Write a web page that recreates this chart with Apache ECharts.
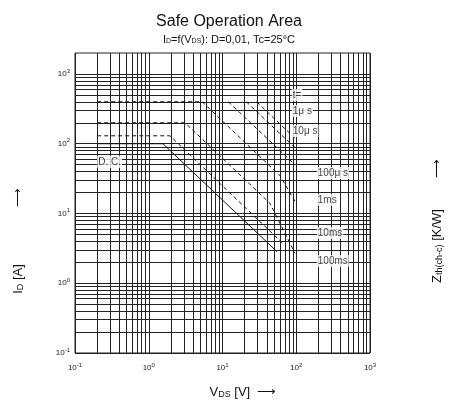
<!DOCTYPE html>
<html>
<head>
<meta charset="utf-8">
<script src="https://cdn.jsdelivr.net/npm/echarts@6/dist/echarts.min.js"></script>
<style>
html, body { margin: 0; padding: 0; background: #fff; }
#chart { width: 465px; height: 405px; }
</style>
</head>
<body>
<div id="chart"></div>
<script>
// SOA curves: [V_DS, I_D] break points
const dcCurve = [[0.2, 100], [1.56, 100], [55, 2.83]];
const ms100Curve = [[0.2, 130], [1.94, 130], [70, 3.5]];
const ms10Curve = [[0.2, 200], [3.1, 200], [44, 14], [96, 2.7]];
const ms1Curve = [[0.2, 400], [5.3, 400], [60, 35], [96, 15]];
const us100Curve = [[12, 400], [96, 50]];
const us10Curve = [[21, 400], [96, 88]];
const us1Curve = [[29, 400], [96, 120]];

// tick exponents (labels 10^n)
const xTickExp = ['-1', '0', '1', '2', '3'];
const yTickExp = ['-1', '0', '1', '2', '3'];

// log graph-paper grid
const gridMant = [1, 2, 3, 4, 5, 6, 7, 8, 9];
const xDecades = [0.1, 1, 10, 100];
const yDecades = [0.1, 1, 10, 100];

// curve labels: [text, V at left edge, I]
const curveLabels = [
    ['t=', 87, 500], ['1\u03bc s', 87, 295], ['10\u03bc s', 87, 152],
    ['100\u03bc s', 190, 38], ['1ms', 190, 15.6], ['10ms', 190, 5.25], ['100ms', 190, 2.08],
    ['D. C.', 0.2, 55]
];

const xLines = [];
xDecades.forEach(d => gridMant.forEach(m => xLines.push({ xAxis: +(m * d).toPrecision(3) })));
xLines.push({ xAxis: 1000 });
const yLines = [];
yDecades.forEach(d => gridMant.forEach(m => yLines.push({ yAxis: +(m * d).toPrecision(3) })));
yLines.push({ yAxis: 1000 });

const chart = echarts.init(document.getElementById('chart'));

function curve(name, data, type) {
    return {
        name: name,
        type: 'line',
        data: data,
        symbol: 'none',
        silent: true,
        z: 5,
        lineStyle: { color: '#111', width: 1, type: type }
    };
}

const font = 'Liberation Sans';
const tickRich = {
    b: { fontFamily: font, fontSize: 8, color: '#222' },
    e: { fontFamily: font, fontSize: 6, color: '#222', padding: [0, 0, 6, 0] }
};

chart.setOption({
    animation: false,
    title: {
        text: 'Safe Operation Area',
        subtext: '{a|I}{s|D}{a|=f(V}{s|DS}{a|): D=0,01, Tc=25°C}',
        left: 224,
        textAlign: 'center',
        top: 9,
        itemGap: 4,
        textStyle: { fontFamily: font, fontSize: 16, fontWeight: 'normal', color: '#111' },
        subtextStyle: {
            rich: {
                a: { fontFamily: font, fontSize: 11, color: '#111' },
                s: { fontFamily: font, fontSize: 7, color: '#111', padding: [4, 0, 0, 0] }
            }
        }
    },
    grid: {
        left: 75, top: 53, width: 295, height: 300,
        show: true, borderColor: '#222', borderWidth: 1
    },
    xAxis: {
        type: 'log',
        min: 0.1,
        max: 1000,
        logBase: 10,
        axisLine: { show: false },
        axisTick: { show: false },
        splitLine: { show: false },
        axisLabel: {
            margin: 9,
            formatter: (v, i) => '{b|10}{e|' + xTickExp[i] + '}',
            rich: tickRich
        }
    },
    yAxis: {
        type: 'log',
        min: 0.1,
        max: 2000,
        logBase: 10,
        axisLine: { show: false },
        axisTick: { show: false },
        splitLine: { show: false },
        axisLabel: {
            margin: 5,
            showMaxLabel: false,
            formatter: (v, i) => '{b|10}{e|' + yTickExp[i] + '}',
            rich: tickRich
        }
    },
    graphic: [
        {
            type: 'text', x: 243, y: 392,
            style: { text: '{a|V}{s|DS}{a| [V]  \u27f6}', align: 'center', verticalAlign: 'middle', rich: {
                a: { fontFamily: font, fontSize: 13, fill: '#111' },
                s: { fontFamily: font, fontSize: 9, fill: '#111', padding: [5, 0, 0, 0] }
            } }
        },
        {
            type: 'text', x: 18, y: 279, rotation: Math.PI / 2,
            style: { text: '{a|I}{s|D}{a| [A]}', align: 'center', verticalAlign: 'middle', rich: {
                a: { fontFamily: font, fontSize: 13, fill: '#111' },
                s: { fontFamily: font, fontSize: 9, fill: '#111', padding: [5, 0, 0, 0] }
            } }
        },
        {
            type: 'text', x: 18, y: 197, rotation: Math.PI / 2,
            style: { text: '\u27f6', align: 'center', verticalAlign: 'middle', fontFamily: font, fontSize: 13, fill: '#111' }
        },
        {
            type: 'text', x: 437, y: 246, rotation: Math.PI / 2,
            style: { text: '{a|Z}{s|th(ch-c)}{a| [K/W]}', align: 'center', verticalAlign: 'middle', rich: {
                a: { fontFamily: font, fontSize: 13, fill: '#111' },
                s: { fontFamily: font, fontSize: 9, fill: '#111', padding: [5, 0, 0, 0] }
            } }
        },
        {
            type: 'text', x: 437, y: 168, rotation: Math.PI / 2,
            style: { text: '\u27f6', align: 'center', verticalAlign: 'middle', fontFamily: font, fontSize: 13, fill: '#111' }
        }
    ],
    series: [
        {
            type: 'line',
            data: [],
            silent: true,
            markLine: {
                silent: true,
                symbol: 'none',
                label: { show: false },
                lineStyle: { color: '#222', width: 1, type: 'solid' },
                data: xLines.concat(yLines)
            }
        },
        curve('D.C.', dcCurve, 'solid'),
        curve('100ms', ms100Curve, [4, 3]),
        curve('10ms', ms10Curve, [4, 3]),
        curve('1ms', ms1Curve, [4, 3]),
        curve('100us', us100Curve, [4, 3]),
        curve('10us', us10Curve, [4, 3]),
        curve('1us', us1Curve, [4, 3]),
        {
            type: 'scatter',
            symbolSize: 0,
            silent: true,
            z: 6,
            data: curveLabels.map(l => ({ value: [l[1], l[2]], name: l[0] })),
            label: {
                show: true,
                position: 'inside',
                align: 'left',
                formatter: p => p.name,
                fontFamily: font,
                fontSize: 10,
                color: '#111',
                backgroundColor: '#fff',
                padding: [1, 1]
            }
        }
    ]
});
</script>
</body>
</html>
